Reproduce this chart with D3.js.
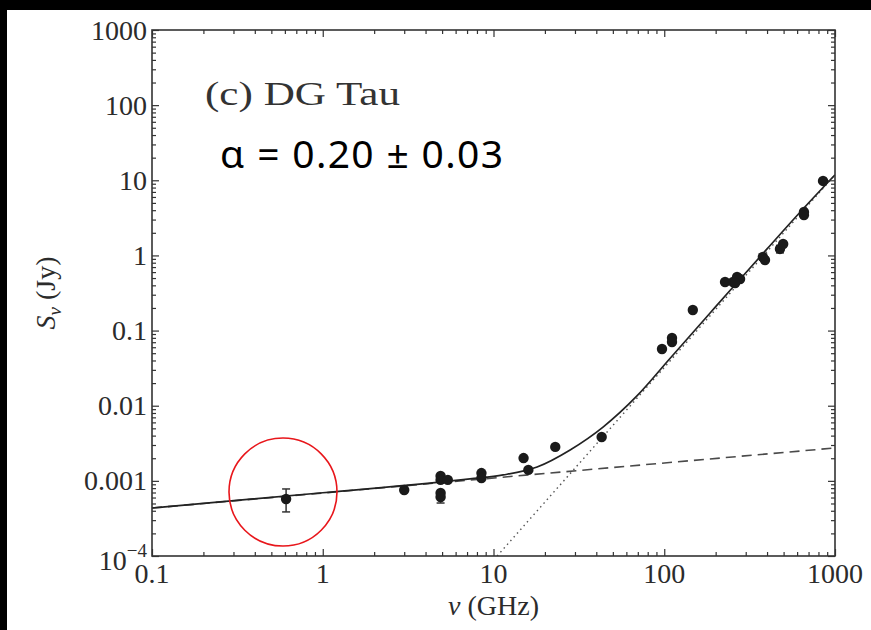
<!DOCTYPE html>
<html><head><meta charset="utf-8">
<script src="https://cdn.jsdelivr.net/npm/d3@7"></script>
<style>body{margin:0;background:#000;} svg{display:block}</style>
</head><body><svg id="c" width="871" height="630"></svg>
<script>
// ---- data ----
const freqGHz = [0.61, 3.0, 4.9, 4.9, 4.9, 4.9, 5.4, 8.5, 8.5, 15, 16, 23, 43,
  97, 111, 111, 147, 227, 253, 267, 278, 260, 378, 389, 476, 497, 658, 658, 851];
const fluxJy = [5.74e-4, 7.55e-4, 1.16e-3, 1.03e-3, 6.9e-4, 6.1e-4, 1.03e-3, 1.27e-3, 1.09e-3,
  2.01e-3, 1.40e-3, 2.83e-3, 3.84e-3, 0.0569, 0.0796, 0.0705, 0.188, 0.443, 0.443, 0.516,
  0.486, 0.43, 0.953, 0.869, 1.22, 1.42, 3.79, 3.45, 9.8];
const errFreq = [0.61, 4.9, 476];
const errLo = [3.86e-4, 5.07e-4, 1.08];
const errHi = [7.8e-4, 6.9e-4, 1.36];

const freeFreeNu = [0.1, 1000];
const freeFreeS = [4.35e-4, 2.74e-3];
const dustNu = [10.5, 1000];
const dustS = [1e-4, 11.8];
const totalNu = [0.1, 1, 7.28, 11.4, 18.0, 28.1, 43.8, 69.2, 108, 185, 253, 400, 624, 1000];
const totalS = [4.35e-4, 6.95e-4, 1.06e-3, 1.20e-3, 1.53e-3, 2.58e-3, 5.2e-3, 0.0135, 0.0425, 0.170, 0.38, 1.22, 3.75, 11.8];

const xTickVals = [0.1, 1, 10, 100, 1000];
const xTickLabels = ["0.1", "1", "10", "100", "1000"];
const yTickVals = [1e-4, 1e-3, 1e-2, 0.1, 1, 10, 100, 1000];
const yTickLabels = ["10", "0.001", "0.01", "0.1", "1", "10", "100", "1000"];

const titleText = "(c) DG Tau";
const alphaText = "α = 0.20 ± 0.03";
const circleCenter = [0.585, 7.1e-4];

// ---- layout ----
const L = 152, R = 835, T = 30, B = 556;
const svg = d3.select("#c");
const ink = "#2b2b2b";
svg.append("rect").attr("width", 871).attr("height", 630).attr("fill", "#000");
svg.append("rect").attr("x", 7).attr("y", 10).attr("width", 864).attr("height", 620).attr("fill", "#fff");

const x = d3.scaleLog().domain([0.1, 1000]).range([L, R]);
const y = d3.scaleLog().domain([1e-4, 1000]).range([B, T]);

svg.append("clipPath").attr("id", "clip").append("rect")
  .attr("x", L).attr("y", T).attr("width", R - L).attr("height", B - T);
const g = svg.append("g").attr("clip-path", "url(#clip)");
const line = d3.line().x(d => x(d[0])).y(d => y(d[1]));

g.append("path").datum(freeFreeNu.map((v, i) => [v, freeFreeS[i]]))
  .attr("d", line).attr("fill", "none").attr("stroke", "#4a4a4a")
  .attr("stroke-width", 1.6).attr("stroke-dasharray", "10,6");
g.append("path").datum(dustNu.map((v, i) => [v, dustS[i]]))
  .attr("d", line).attr("fill", "none").attr("stroke", "#555")
  .attr("stroke-width", 1.4).attr("stroke-dasharray", "1.5,3.5");
g.append("path").datum(totalNu.map((v, i) => [v, totalS[i]]))
  .attr("d", line.curve(d3.curveMonotoneX)).attr("fill", "none").attr("stroke", "#222")
  .attr("stroke-width", 1.7);

// error bars
errFreq.forEach((v, i) => {
  const eb = g.append("g").attr("stroke", "#333").attr("stroke-width", 1.5);
  eb.append("line").attr("x1", x(v)).attr("x2", x(v)).attr("y1", y(errLo[i])).attr("y2", y(errHi[i]));
  eb.append("line").attr("x1", x(v) - 4).attr("x2", x(v) + 4).attr("y1", y(errLo[i])).attr("y2", y(errLo[i]));
  eb.append("line").attr("x1", x(v) - 4).attr("x2", x(v) + 4).attr("y1", y(errHi[i])).attr("y2", y(errHi[i]));
});

// points
g.selectAll("circle.pt").data(freqGHz.map((v, i) => [v, fluxJy[i]])).join("circle")
  .attr("class", "pt").attr("cx", d => x(d[0])).attr("cy", d => y(d[1]))
  .attr("r", 5.2).attr("fill", "#1a1a1a");

// ticks (all four sides, inward)
const xMinor = x.ticks().filter(t => Math.abs(Math.log10(t) - Math.round(Math.log10(t))) > 1e-6);
const yMinor = y.ticks().filter(t => Math.abs(Math.log10(t) - Math.round(Math.log10(t))) > 1e-6);
function addAxis(axisFn, scale, vals, size, tr) {
  const a = svg.append("g").attr("transform", tr)
    .call(axisFn(scale).tickValues(vals).tickSize(size).tickFormat(""));
  a.select(".domain").remove();
  a.selectAll("line").attr("stroke", "#333").attr("stroke-width", 1.2);
}
addAxis(d3.axisBottom, x, xTickVals, -7, `translate(0,${B})`);
addAxis(d3.axisBottom, x, xMinor, -4, `translate(0,${B})`);
addAxis(d3.axisTop, x, xTickVals, -7, `translate(0,${T})`);
addAxis(d3.axisTop, x, xMinor, -4, `translate(0,${T})`);
addAxis(d3.axisLeft, y, yTickVals, -7, `translate(${L},0)`);
addAxis(d3.axisLeft, y, yMinor, -4, `translate(${L},0)`);
addAxis(d3.axisRight, y, yTickVals, -7, `translate(${R},0)`);
addAxis(d3.axisRight, y, yMinor, -4, `translate(${R},0)`);

svg.append("rect").attr("x", L).attr("y", T).attr("width", R - L).attr("height", B - T)
  .attr("fill", "none").attr("stroke", "#333").attr("stroke-width", 1.6);

// annotation circle
svg.append("circle").attr("cx", x(circleCenter[0])).attr("cy", y(circleCenter[1]))
  .attr("r", 54).attr("fill", "none").attr("stroke", "#e8161b").attr("stroke-width", 1.6);

// tick labels
const serif = "'Liberation Serif', 'Times New Roman', serif";
xTickVals.forEach((v, i) => {
  svg.append("text").attr("x", x(v)).attr("y", B + 27).attr("text-anchor", "middle")
    .attr("font-family", serif).attr("font-size", 28).attr("fill", ink).text(xTickLabels[i]);
});
yTickVals.forEach((v, i) => {
  const t = svg.append("text").attr("x", L - 5).attr("text-anchor", "end")
    .attr("font-family", serif).attr("font-size", 28).attr("fill", ink);
  if (i === 0) {
    t.attr("y", y(v) + 14);
    t.append("tspan").text(yTickLabels[i]);
    t.append("tspan").attr("font-size", 19).attr("dy", -13).text("−4");
  } else {
    t.attr("y", y(v) + 9.5).text(yTickLabels[i]);
  }
});

// axis titles
const xt = svg.append("text").attr("x", (L + R) / 2).attr("y", 615).attr("text-anchor", "middle")
  .attr("font-family", serif).attr("font-size", 28).attr("fill", ink);
xt.append("tspan").attr("font-style", "italic").text("ν");
xt.append("tspan").text(" (GHz)");

const yt = svg.append("text").attr("transform", `translate(55,${(T + B) / 2}) rotate(-90)`)
  .attr("text-anchor", "middle").attr("font-family", serif).attr("font-size", 28).attr("fill", ink);
yt.append("tspan").attr("font-style", "italic").text("S");
yt.append("tspan").attr("font-style", "italic").attr("font-size", 19).attr("dy", 6).text("ν");
yt.append("tspan").attr("dy", -6).text(" (Jy)");

// panel label and alpha
svg.append("text").attr("x", 205).attr("y", 105).attr("font-family", serif).attr("font-size", 33)
  .attr("fill", "#333").attr("textLength", 195).attr("lengthAdjust", "spacingAndGlyphs").text(titleText);
svg.append("text").attr("x", 220).attr("y", 168).attr("font-family", "'Noto Sans', 'Open Sans', sans-serif")
  .attr("font-size", 39).attr("fill", "#000").attr("textLength", 283).attr("lengthAdjust", "spacing").text(alphaText);
</script></body></html>
